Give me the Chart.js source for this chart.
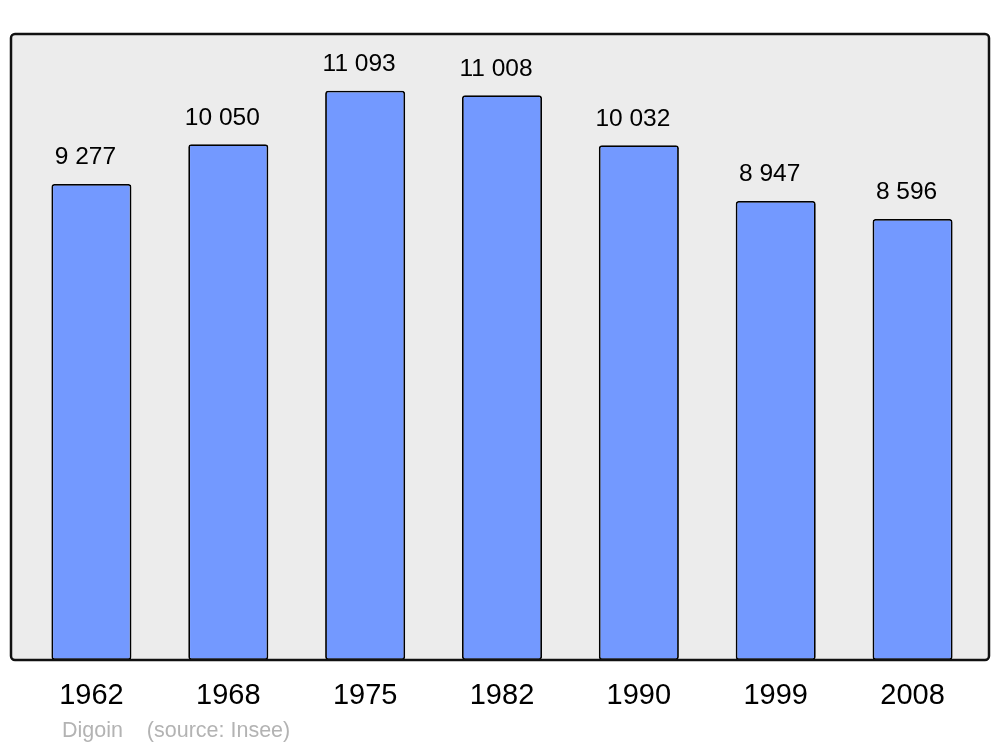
<!DOCTYPE html>
<html>
<head>
<meta charset="utf-8">
<script src="https://cdn.jsdelivr.net/npm/chart.js@4/dist/chart.umd.min.js"></script>
<style>
  html, body { margin: 0; padding: 0; background: #fff; }
  #wrap { position: relative; width: 1000px; height: 747px; }
  #caption { position: absolute; left: 62px; top: 718px; font: 21.5px "Liberation Sans", Arial, sans-serif; color: #b3b3b3; white-space: pre; }
</style>
</head>
<body>
<div id="wrap">
  <canvas id="chart"></canvas>
  <div id="caption">Digoin    (source: Insee)</div>
</div>
<script>
const years = ['1962', '1968', '1975', '1982', '1990', '1999', '2008'];
const population = [9277, 10050, 11093, 11008, 10032, 8947, 8596];

var ctx = document.getElementById('chart').getContext('2d');
ctx.canvas.width = 1000;
ctx.canvas.height = 747;

const fmt = n => String(n).replace(/\B(?=(\d{3})+(?!\d))/g, ' ');

function roundRect(c, x, y, w, h, r) {
    c.beginPath();
    c.moveTo(x + r, y);
    c.arcTo(x + w, y, x + w, y + h, r);
    c.arcTo(x + w, y + h, x, y + h, r);
    c.arcTo(x, y + h, x, y, r);
    c.arcTo(x, y, x + w, y, r);
    c.closePath();
}

const frame = {
    id: 'frame',
    beforeDatasetsDraw(chart) {
        const a = chart.chartArea, c = chart.ctx;
        c.save();
        roundRect(c, a.left - 12, a.top, a.right - a.left + 20, a.bottom - a.top, 4);
        c.fillStyle = '#ececec';
        c.fill();
        c.restore();
    },
    afterDatasetsDraw(chart) {
        const a = chart.chartArea, c = chart.ctx;
        c.save();
        roundRect(c, a.left - 12, a.top, a.right - a.left + 20, a.bottom - a.top, 4);
        c.lineWidth = 2.5;
        c.strokeStyle = '#111';
        c.stroke();
        // value labels above bars
        c.font = '24.5px "Liberation Sans", Arial, sans-serif';
        c.fillStyle = '#000';
        c.textAlign = 'center';
        c.textBaseline = 'bottom';
        chart.getDatasetMeta(0).data.forEach((bar, i) => {
            c.fillText(fmt(population[i]), bar.x - 6, bar.y - 14);
        });
        c.restore();
    }
};

var chart = new Chart(ctx, {
    type: 'bar',
    data: {
        labels: years,
        datasets: [{
            data: population,
            backgroundColor: '#7399ff',
            borderColor: '#000',
            borderWidth: 1.8,
            borderRadius: 3,
            borderSkipped: false,
            barPercentage: 0.585,
            categoryPercentage: 1
        }]
    },
    options: {
        responsive: false,
        animation: false,
        layout: { padding: { left: 23, right: 19, top: 34, bottom: 0 } },
        plugins: { legend: { display: false }, tooltip: { enabled: false } },
        scales: {
            x: {
                grid: { display: false, drawTicks: false },
                border: { display: false },
                ticks: {
                    color: '#000',
                    padding: 19,
                    font: { family: '"Liberation Sans", Arial, sans-serif', size: 29 }
                },
                afterFit: s => { s.height = 87; }
            },
            y: { display: false, min: 0, max: 12200 }
        }
    },
    plugins: [frame]
});
</script>
</body>
</html>
